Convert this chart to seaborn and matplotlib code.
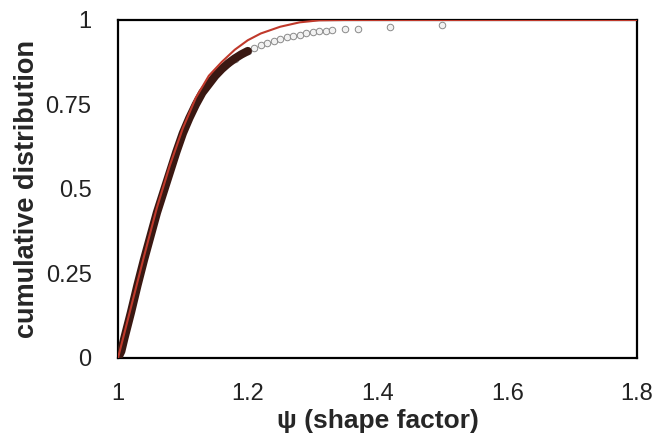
import numpy as np
import pandas as pd
import seaborn as sns
import matplotlib
matplotlib.use('Agg')
import matplotlib.pyplot as plt

sns.set_style('white')
plt.rcParams['font.family'] = ['Liberation Sans', 'DejaVu Sans']

# datos medidos (curva oscura)
psi_datos = [1.0, 1.005, 1.01, 1.02, 1.03, 1.04, 1.05, 1.06, 1.07, 1.08, 1.09, 1.10,
             1.11, 1.12, 1.13, 1.14, 1.15, 1.16, 1.17, 1.18, 1.19, 1.20]
cdf_datos = [0.0, 0.02, 0.06, 0.135, 0.215, 0.29, 0.36, 0.43, 0.49, 0.55, 0.61, 0.665,
             0.71, 0.75, 0.785, 0.81, 0.835, 0.855, 0.872, 0.886, 0.898, 0.908]

# cola de puntos claros
psi_cola = [1.17, 1.18, 1.19, 1.20, 1.21, 1.22, 1.23, 1.24, 1.25, 1.26, 1.27, 1.28,
            1.29, 1.30, 1.31, 1.32, 1.33, 1.35, 1.37, 1.42, 1.50]
cdf_cola = [0.872, 0.886, 0.898, 0.909, 0.918, 0.926, 0.933, 0.939, 0.944, 0.949, 0.953, 0.957,
            0.96, 0.963, 0.966, 0.968, 0.97, 0.972, 0.974, 0.978, 0.985]

# ajuste (curva roja)
psi_ajuste = [1.0, 1.02, 1.04, 1.06, 1.08, 1.10, 1.12, 1.14, 1.16, 1.18, 1.20, 1.22,
              1.25, 1.28, 1.31, 1.35, 1.5, 1.8]
cdf_ajuste = [0.0, 0.15, 0.30, 0.445, 0.57, 0.68, 0.77, 0.835, 0.876, 0.912, 0.94, 0.96,
              0.98, 0.993, 0.999, 1.0, 1.0, 1.0]

df_datos = pd.DataFrame({'psi': psi_datos, 'cdf': cdf_datos})
df_cola = pd.DataFrame({'psi': psi_cola, 'cdf': cdf_cola})
df_ajuste = pd.DataFrame({'psi': psi_ajuste, 'cdf': cdf_ajuste})

fig = plt.figure(figsize=(6.57, 4.43), dpi=100)
ax = fig.add_axes([0.1796, 0.1919, 0.790, 0.763])

sns.scatterplot(data=df_cola, x='psi', y='cdf', ax=ax, color='#f2f2f2',
                edgecolor='#8a8a8a', s=22, linewidth=0.7, zorder=2)
sns.lineplot(data=df_datos, x='psi', y='cdf', ax=ax, color='#3a1812', linewidth=6,
             zorder=3, solid_capstyle='round')
sns.lineplot(data=df_ajuste, x='psi', y='cdf', ax=ax, color='#c0392b', linewidth=1.5, zorder=4)

ax.set_xlim(1, 1.8)
ax.set_ylim(0, 1)
ax.set_xticks([1, 1.2, 1.4, 1.6, 1.8])
ax.set_xticklabels(['1', '1.2', '1.4', '1.6', '1.8'])
ax.set_yticks([0, 0.25, 0.5, 0.75, 1])
ax.set_yticklabels(['0', '0.25', '0.5', '0.75', '1'])
ax.tick_params(direction='in', length=5, width=1.5, labelsize=17, colors='#222222')
ax.tick_params(axis='x', pad=18)
ax.tick_params(axis='y', pad=19)
for s in ax.spines.values():
    s.set_color('black')
    s.set_linewidth(1.6)

ax.set_xlabel('ψ (shape factor)', fontsize=19, fontweight='bold', labelpad=3)
ax.set_ylabel('cumulative distribution', fontsize=19.5, fontweight='bold', labelpad=4)

fig.savefig('out.png', dpi=100)
